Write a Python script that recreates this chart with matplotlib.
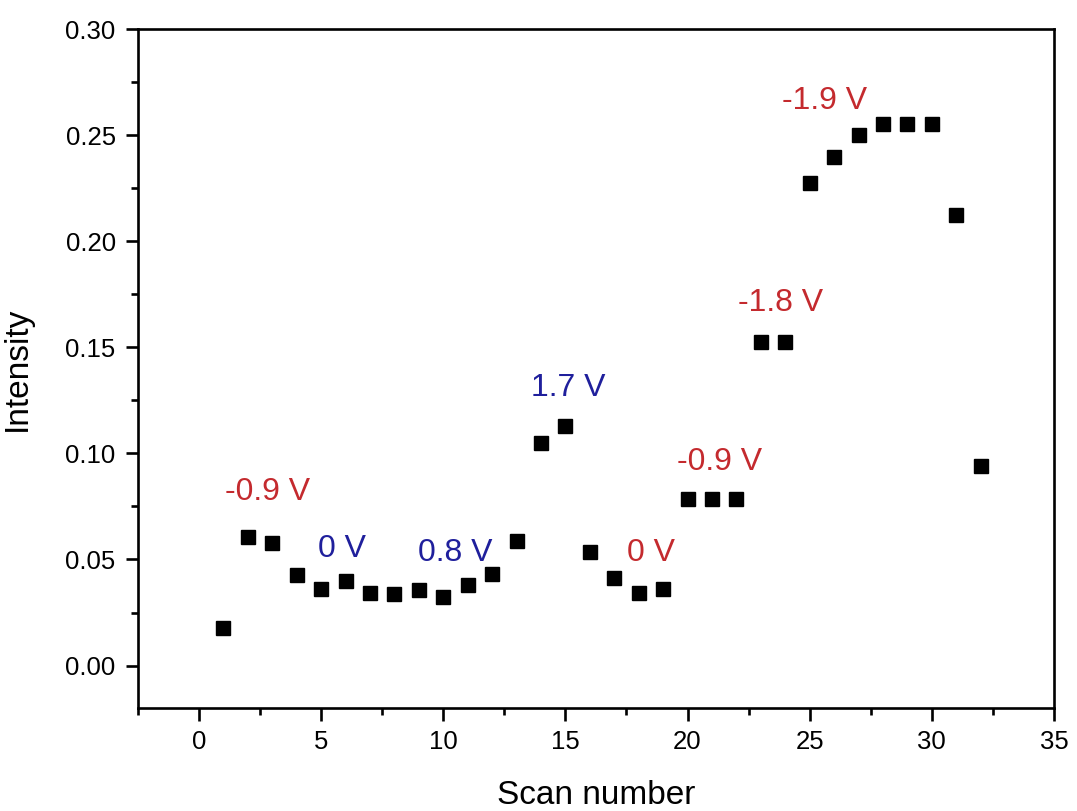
import matplotlib
matplotlib.use("Agg")
import matplotlib.pyplot as plt
from matplotlib.ticker import MultipleLocator

plt.rcParams["font.family"] = ["Liberation Sans", "DejaVu Sans"]

# Data
scan = list(range(1, 33))
intensity = [0.0179, 0.0604, 0.0580, 0.0425, 0.0363, 0.0400, 0.0340, 0.0335,
             0.0358, 0.0325, 0.0380, 0.0430, 0.0585, 0.1050, 0.1127, 0.0533,
             0.0415, 0.0340, 0.0363, 0.0783, 0.0783, 0.0783, 0.1524, 0.1524,
             0.2274, 0.2396, 0.2500, 0.2552, 0.2552, 0.2552, 0.2123, 0.0939]

# Voltage annotations
label_text = ["-0.9 V", "0 V", "0.8 V", "1.7 V", "0 V", "-0.9 V", "-1.8 V", "-1.9 V"]
label_x = [2.8, 5.85, 10.5, 15.1, 18.5, 21.3, 23.8, 25.6]
label_y = [0.0816, 0.055, 0.053, 0.1307, 0.053, 0.0958, 0.171, 0.266]
label_color = ["red", "blue", "blue", "blue", "red", "red", "red", "red"]
palette = {"red": "#c42a2e", "blue": "#1f1f9c"}

fig = plt.figure(figsize=(10.77, 8.11), dpi=100)
ax = fig.add_axes([0.1281, 0.127, 0.8505, 0.8372])

ax.plot(scan, intensity, "s", color="black", markersize=10.5, linestyle="none")

for t, x, y, c in zip(label_text, label_x, label_y, label_color):
    ax.text(x, y, t, color=palette[c], fontsize=23, ha="center", va="center")

ax.set_xlim(-2.5, 35)
ax.set_ylim(-0.02, 0.30)
ax.xaxis.set_major_locator(MultipleLocator(5))
ax.xaxis.set_minor_locator(MultipleLocator(2.5))
ax.yaxis.set_major_locator(MultipleLocator(0.05))
ax.yaxis.set_minor_locator(MultipleLocator(0.025))
ax.yaxis.set_major_formatter(plt.FormatStrFormatter("%.2f"))

for s in ax.spines.values():
    s.set_linewidth(1.9)
ax.tick_params(which="major", direction="out", length=9, width=1.9, labelsize=18.5, pad=7)
ax.tick_params(which="minor", direction="out", length=5, width=1.9)

ax.set_xlabel("Scan number", fontsize=24)
ax.set_ylabel("Intensity", fontsize=24)
ax.xaxis.set_label_coords(0.5, -0.106)
ax.yaxis.set_label_coords(-0.1146, 0.5)

fig.savefig("out.png", dpi=100)
